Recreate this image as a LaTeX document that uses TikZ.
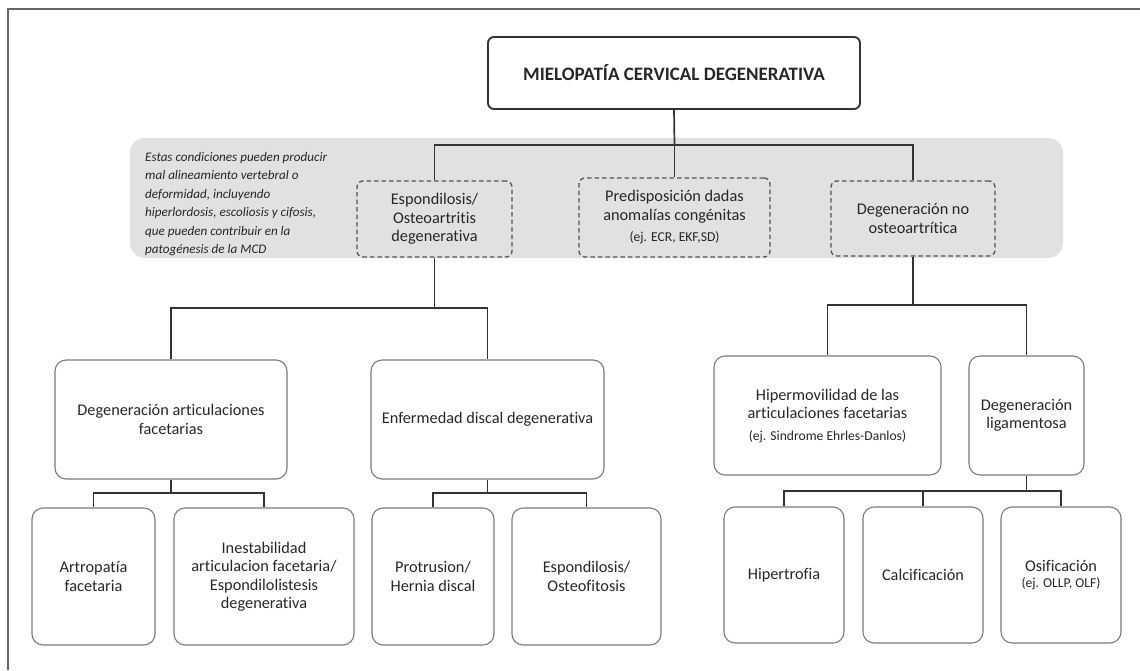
\documentclass[tikz,border=0pt]{standalone}
\usepackage{fontspec}
\setmainfont{Carlito}[Ligatures=NoCommon]
\definecolor{linec}{HTML}{333333}
\definecolor{boxc}{HTML}{7A7A7A}
\definecolor{dashc}{HTML}{555555}
\definecolor{bandc}{HTML}{E0E1E3}
\definecolor{textc}{HTML}{262626}
\definecolor{framec}{HTML}{666666}
\newcommand\ejtext[1]{{\fontsize{13.6}{16}\selectfont #1}}
\tikzset{
  base/.style={align=center, text=textc, font=\fontsize{16.3}{18.5}\selectfont, inner sep=2pt},
  sz/.style 2 args={minimum width=#1pt, minimum height=#2pt},
  solidbox/.style={base, draw=boxc, line width=1.1pt, rounded corners=11pt},
  dbox/.style={base, draw=dashc, line width=1.3pt, dash pattern=on 4.5pt off 3pt, rounded corners=6pt},
  titlebox/.style={base, draw=linec, line width=1.9pt, rounded corners=6pt, font=\fontsize{19}{22}\selectfont\bfseries},
  band/.style={fill=bandc, rounded corners=15pt, inner sep=0pt},
  conn/.style={draw=linec, line width=1.7pt},
  note/.style={align=left, text=textc, font=\fontsize{13.1}{18.4}\selectfont\itshape, inner sep=0pt},
  frameline/.style={draw=framec, line width=2pt}
}
\begin{document}
\begin{tikzpicture}[x=1pt,y=-1pt]
\useasboundingbox (0,0) rectangle (1140,670);
% frame
\coordinate (fl) at (8,670);
\coordinate (fc) at (8,9);
\coordinate (fr) at (1140,9);
\draw[frameline] (fl) -- (fc) -- (fr);

% grey band
\node[band, sz={933}{120}] (band) at (596.5,198) {};
\node[note, anchor=west] (notetxt) at (145,204) {Estas condiciones pueden producir\\mal alineamiento vertebral o\\deformidad, incluyendo\\hiperlordosis, escoliosis y cifosis,\\que pueden contribuir en la\\patogénesis de la MCD};

% title
\node[titlebox, sz={372}{72}] (title) at (674,73) {MIELOPATÍA CERVICAL DEGENERATIVA};

% dashed level
\node[dbox, sz={155}{76}] (d1) at (434.5,219) {Espondilosis/\\Osteoartritis\\degenerativa};
\node[dbox, sz={191}{79}] (d2) at (674.5,217.5) {Predisposición dadas\\anomalías congénitas\\[3pt]\ejtext{(ej. ECR, EKF,SD)}};
\node[dbox, sz={164}{75}] (d3) at (913,218.5) {Degeneración no\\osteoartrítica};

% level 2
\node[solidbox, sz={232}{119}] (L1) at (171,419.5) {Degeneración articulaciones\\facetarias};
\node[solidbox, sz={233}{119}] (L2) at (487.5,419.5) {Enfermedad discal degenerativa};
\node[solidbox, sz={227}{119}] (R1) at (827.5,415.5) {Hipermovilidad de las\\articulaciones facetarias\\[3pt]\ejtext{(ej. Sindrome Ehrles-Danlos)}};
\node[solidbox, sz={115}{119}] (R2) at (1026.5,415.5) {Degeneración\\ligamentosa};

% level 3
\node[solidbox, sz={123}{137}] (A1) at (93.5,576.5) {Artropatía\\facetaria};
\node[solidbox, sz={180}{137}] (A2) at (264,576.5) {Inestabilidad\\articulacion facetaria/\\Espondilolistesis\\degenerativa};
\node[solidbox, sz={122}{137}] (A3) at (433,576.5) {Protrusion/\\Hernia discal};
\node[solidbox, sz={149}{137}] (A4) at (586.5,576.5) {Espondilosis/\\Osteofitosis};
\node[solidbox, sz={120}{136}] (C1) at (784,575) {Hipertrofia};
\node[solidbox, sz={120}{136}] (C2) at (923,575) {Calcificación};
\node[solidbox, sz={120}{136}] (C3) at (1061,575) {Osificación\\[-2pt]\ejtext{(ej. OLLP, OLF)}};

% connectors
\coordinate (b1) at (674.5,145);
\draw[conn] (title.south) -- (b1);
\draw[conn] (d1.north) |- (b1) -| (d3.north);
\draw[conn] (b1) -- (d2.north);

\coordinate (b2) at (434.5,308);
\draw[conn] (d1.south) -- (b2);
\draw[conn] (L1.north) |- (b2) -| (L2.north);

\coordinate (b3) at (171,493);
\draw[conn] (L1.south) -- (b3);
\draw[conn] (A1.north) |- (b3) -| (A2.north);

\coordinate (b4) at (487.5,493);
\draw[conn] (L2.south) -- (b4);
\draw[conn] (A3.north) |- (b4) -| (A4.north);

\coordinate (b5) at (913,305);
\draw[conn] (d3.south) -- (b5);
\draw[conn] (R1.north) |- (b5) -| (R2.north);

\coordinate (b6) at (1026.5,491);
\draw[conn] (R2.south) -- (b6);
\draw[conn] (C1.north) |- (b6) -| (C3.north);
\draw[conn] (b6) -| (C2.north);
\end{tikzpicture}
\end{document}
